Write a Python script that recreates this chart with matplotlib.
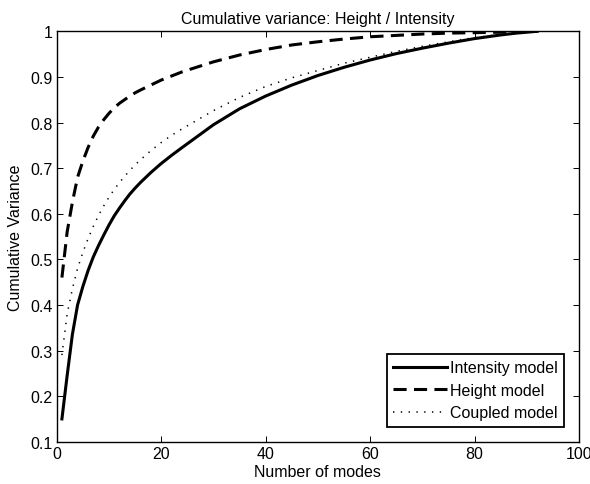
import matplotlib
matplotlib.use("Agg")
import matplotlib.pyplot as plt

plt.rcParams['font.family'] = ['Liberation Sans', 'DejaVu Sans']

modes = [1, 2, 3, 4, 5, 6, 7, 8, 9, 10, 11, 12, 13, 14, 15, 16, 18, 20, 22,
         24, 27, 30, 35, 40, 45, 50, 55, 60, 65, 70, 75, 80, 85, 88, 92]
intensity = [0.15, 0.245, 0.335, 0.40, 0.44, 0.475, 0.505, 0.53, 0.553,
             0.575, 0.595, 0.612, 0.628, 0.643, 0.656, 0.668, 0.69, 0.71,
             0.728, 0.745, 0.77, 0.795, 0.83, 0.858, 0.882, 0.903, 0.921,
             0.937, 0.951, 0.963, 0.974, 0.984, 0.992, 0.996, 1.0]
height = [0.46, 0.56, 0.625, 0.68, 0.715, 0.745, 0.77, 0.79, 0.806, 0.82,
          0.832, 0.842, 0.85, 0.858, 0.865, 0.871, 0.882, 0.893, 0.902,
          0.911, 0.922, 0.933, 0.948, 0.96, 0.97, 0.977, 0.983, 0.988,
          0.991, 0.994, 0.996, 0.997, 0.998, 0.999, 1.0]
coupled = [0.29, 0.38, 0.435, 0.48, 0.515, 0.545, 0.572, 0.596, 0.617,
           0.636, 0.653, 0.668, 0.682, 0.695, 0.707, 0.718, 0.738, 0.756,
           0.772, 0.786, 0.806, 0.826, 0.855, 0.879, 0.898, 0.914, 0.93,
           0.943, 0.956, 0.967, 0.977, 0.986, 0.993, 0.996, 1.0]

series_labels = ['Intensity model', 'Height model', 'Coupled model']
xticks = [0, 20, 40, 60, 80, 100]
xticklabels = ['0', '20', '40', '60', '80', '100']
yticks = [0.1, 0.2, 0.3, 0.4, 0.5, 0.6, 0.7, 0.8, 0.9, 1.0]
yticklabels = ['0.1', '0.2', '0.3', '0.4', '0.5', '0.6', '0.7', '0.8', '0.9', '1']

FS = 11.5

fig = plt.figure(figsize=(5.9, 4.85), dpi=100)
ax = fig.add_axes([0.0961, 0.0872, 0.8853, 0.8462])

ax.plot(modes, intensity, color='black', lw=2.2, linestyle='-', label=series_labels[0])
ax.plot(modes, height, color='black', lw=2.2, linestyle=(0, (4.3, 2.4)), label=series_labels[1])
ax.plot(modes, coupled, color='black', lw=1.1, linestyle=(0, (0.9, 4.2)), label=series_labels[2])

ax.set_xlim(0, 100)
ax.set_ylim(0.1, 1.0)
ax.set_xticks(xticks)
ax.set_xticklabels(xticklabels)
ax.set_yticks(yticks)
ax.set_yticklabels(yticklabels)
ax.tick_params(direction='in', length=4.5, width=0.7, top=True, right=True,
               labelsize=FS, colors='black', pad=3)
for s in ax.spines.values():
    s.set_linewidth(1.0)
    s.set_color('black')

ax.set_title('Cumulative variance: Height / Intensity', fontsize=FS, pad=6)
ax.set_xlabel('Number of modes', fontsize=FS, labelpad=2)
ax.set_ylabel('Cumulative Variance', fontsize=FS, labelpad=5.5)

leg = ax.legend(loc='lower right', fontsize=FS, frameon=True, fancybox=False,
                handlelength=3.35, handletextpad=0.2, borderpad=0.4,
                labelspacing=0.47, borderaxespad=0.95)
leg.get_frame().set_edgecolor('black')
leg.get_frame().set_linewidth(1.3)
leg.get_frame().set_alpha(1)

fig.savefig('out.png', dpi=100)
